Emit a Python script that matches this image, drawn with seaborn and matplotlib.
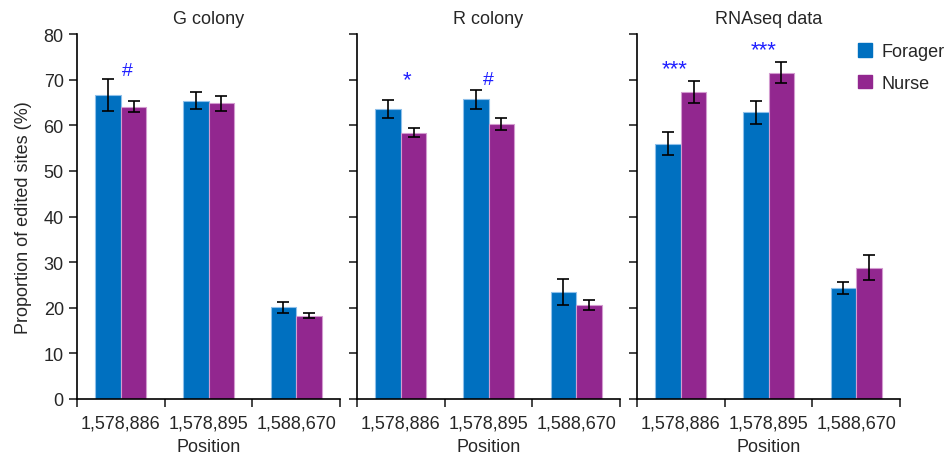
import numpy as np
import pandas as pd
import matplotlib
matplotlib.use("Agg")
import matplotlib.pyplot as plt
import seaborn as sns

sns.set_style("ticks")
plt.rcParams['font.family'] = ['Liberation Sans', 'DejaVu Sans']

positions = ["1,578,886", "1,578,895", "1,588,670"]
panels = ["G colony", "R colony", "RNAseq data"]
groups = ["Forager", "Nurse"]

forager_mean = {"G colony": [66.6, 65.4, 20.1],
                "R colony": [63.6, 65.7, 23.5],
                "RNAseq data": [56.0, 62.8, 24.4]}
forager_err = {"G colony": [3.5, 1.9, 1.2],
               "R colony": [2.0, 2.1, 2.8],
               "RNAseq data": [2.5, 2.5, 1.3]}
nurse_mean = {"G colony": [64.1, 64.8, 18.3],
              "R colony": [58.4, 60.2, 20.6],
              "RNAseq data": [67.2, 71.5, 28.8]}
nurse_err = {"G colony": [1.2, 1.6, 0.6],
             "R colony": [0.9, 1.3, 1.2],
             "RNAseq data": [2.4, 2.3, 2.7]}

# significance annotations: (panel, position index, label, y value)
annot_panel = ["G colony", "R colony", "R colony", "RNAseq data", "RNAseq data"]
annot_pos = [0, 0, 1, 0, 1]
annot_text = ["#", "*", "#", "***", "***"]
annot_y = [72.0, 70.0, 70.0, 72.5, 76.5]
annot_dx = [0.07, 0.07, 0.0, -0.07, -0.06]

colors = {"Forager": "#0070C0", "Nurse": "#92278F"}
edges = {"Forager": "#8fc0ea", "Nurse": "#d39bd0"}

rows = []
for p in panels:
    for i, pos in enumerate(positions):
        rows.append(dict(Panel=p, Position=pos, Group="Forager",
                         value=forager_mean[p][i], err=forager_err[p][i]))
        rows.append(dict(Panel=p, Position=pos, Group="Nurse",
                         value=nurse_mean[p][i], err=nurse_err[p][i]))
df = pd.DataFrame(rows)

fig = plt.figure(figsize=(9.49, 4.60), dpi=100)
W, H = 949, 460
lefts = [77, 357, 637]
axw = 263
bottom, top = 400, 35
axes = []
for k, p in enumerate(panels):
    ax = fig.add_axes([lefts[k] / W, 1 - bottom / H, axw / W, (bottom - top) / H])
    axes.append(ax)
    sub = df[df.Panel == p]
    sns.barplot(data=sub, x="Position", y="value", hue="Group", order=positions,
                hue_order=groups, palette=colors, width=0.58, gap=0,
                errorbar=None, ax=ax, legend=False, linewidth=0.8,
                saturation=1)
    for container, g in zip(ax.containers, groups):
        gsub = sub[sub.Group == g].set_index("Position").loc[positions]
        xs, ys = [], []
        for bar in container:
            bar.set_edgecolor(edges[g])
            xs.append(bar.get_x() + bar.get_width() / 2)
            ys.append(bar.get_height())
        ax.errorbar(xs, ys, yerr=gsub["err"].values, fmt="none", ecolor="black",
                    elinewidth=1.2, capsize=4, capthick=1.2, zorder=5)
    for j in range(len(annot_text)):
        if annot_panel[j] == p:
            fs = 16 if "*" in annot_text[j] else 14
            ax.text(annot_pos[j] + annot_dx[j], annot_y[j], annot_text[j],
                    color="#1f1fff", ha="center", va="center", fontsize=fs)
    ax.set_xlim(-0.5, 2.5)
    ax.set_ylim(0, 80)
    ax.set_yticks(np.arange(0, 81, 10))
    ax.set_xticks([-0.5, 0.5, 1.5, 2.5], minor=True)
    ax.tick_params(axis="x", which="major", length=0, pad=11, labelsize=13)
    ax.tick_params(axis="x", which="minor", length=6, width=1.2, direction="out")
    ax.tick_params(axis="y", length=6, width=1.2, direction="out", labelsize=13)
    for s in ["top", "right"]:
        ax.spines[s].set_visible(False)
    for s in ["left", "bottom"]:
        ax.spines[s].set_linewidth(1.2)
        ax.spines[s].set_color("black")
    ax.set_title(p, fontsize=13, pad=8)
    ax.set_xlabel("Position", fontsize=13, labelpad=5)
    if k == 0:
        ax.set_ylabel("Proportion of edited sites (%)", fontsize=13, labelpad=8)
    else:
        ax.set_ylabel("")
        ax.set_yticklabels([])

handles = [matplotlib.patches.Patch(facecolor=colors[g], edgecolor=colors[g]) for g in groups]
fig.legend(handles, groups, loc="upper left", bbox_to_anchor=(858 / W, 1 - 44 / H),
           frameon=False, fontsize=13, handlelength=0.8, handleheight=0.8,
           handletextpad=0.5, labelspacing=0.8, borderaxespad=0, borderpad=0)

fig.savefig("out.png", dpi=100)
